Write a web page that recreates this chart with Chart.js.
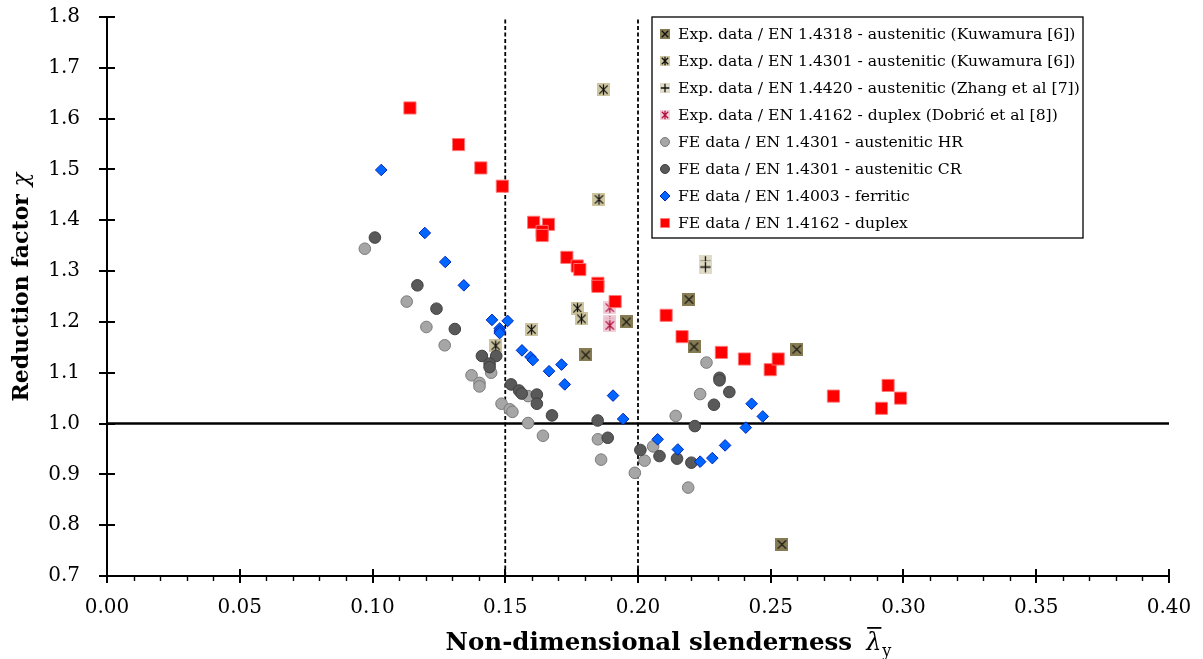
<!DOCTYPE html>
<html lang="en">
<head>
<meta charset="UTF-8">
<title>Reduction factor vs. non-dimensional slenderness</title>
<script src="https://cdn.jsdelivr.net/npm/chart.js"></script>
<style>
  html, body { margin: 0; padding: 0; background: #fff; }
  #wrap { width: 1203px; height: 659px; }
</style>
</head>
<body>
<div id="wrap"><canvas id="chiChart" width="1203" height="659"></canvas></div>
<script>
// slenderness (x) and reduction factor chi (y) for each data set
const exp4318 = [[0.1803, 1.135], [0.1956, 1.200], [0.2192, 1.244], [0.2211, 1.151], [0.2598, 1.146], [0.2542, 0.762]];
const exp4301 = [[0.1870, 1.657], [0.1853, 1.441], [0.1599, 1.185], [0.1464, 1.153], [0.1772, 1.227], [0.1787, 1.206]];
const exp4420 = [[0.2254, 1.319], [0.2254, 1.308]];
const exp4162 = [[0.1894, 1.228], [0.1894, 1.201], [0.1894, 1.196], [0.1894, 1.193]];

const feHR = [[0.0971, 1.344], [0.1129, 1.240], [0.1203, 1.190], [0.1272, 1.154], [0.1373, 1.095], [0.1403, 1.080],
  [0.1403, 1.073], [0.1447, 1.100], [0.1486, 1.039], [0.1517, 1.028], [0.1527, 1.023], [0.1586, 1.054],
  [0.1586, 1.001], [0.1642, 0.976], [0.1849, 0.969], [0.1861, 0.929], [0.1988, 0.903], [0.2025, 0.927],
  [0.2057, 0.955], [0.2142, 1.015], [0.2189, 0.874], [0.2258, 1.120], [0.2234, 1.058]];

const feCR = [[0.1009, 1.366], [0.1169, 1.272], [0.1241, 1.226], [0.1310, 1.186], [0.1412, 1.133], [0.1466, 1.133],
  [0.1441, 1.118], [0.1441, 1.111], [0.1522, 1.077], [0.1552, 1.065], [0.1562, 1.059], [0.1619, 1.057],
  [0.1619, 1.039], [0.1676, 1.016], [0.1848, 1.006], [0.1886, 0.972], [0.2009, 0.948], [0.2081, 0.936],
  [0.2147, 0.931], [0.2201, 0.923], [0.2214, 0.995], [0.2307, 1.090], [0.2307, 1.085], [0.2344, 1.062],
  [0.2286, 1.037]];

const feFerritic = [[0.1033, 1.499], [0.1197, 1.375], [0.1274, 1.318], [0.1344, 1.272], [0.1450, 1.204], [0.1509, 1.202],
  [0.1479, 1.187], [0.1479, 1.182], [0.1479, 1.178], [0.1563, 1.144], [0.1595, 1.131], [0.1604, 1.125],
  [0.1665, 1.103], [0.1712, 1.116], [0.1724, 1.077], [0.1906, 1.055], [0.1944, 1.009], [0.2074, 0.969],
  [0.2150, 0.949], [0.2234, 0.925], [0.2280, 0.932], [0.2328, 0.957], [0.2406, 0.992], [0.2428, 1.039],
  [0.2470, 1.014]];

const feDuplex = [[0.1141, 1.621], [0.1324, 1.549], [0.1408, 1.503], [0.1489, 1.467], [0.1607, 1.396], [0.1663, 1.392],
  [0.1639, 1.378], [0.1639, 1.370], [0.1732, 1.327], [0.1771, 1.310], [0.1781, 1.303], [0.1849, 1.276],
  [0.1849, 1.270], [0.1914, 1.240], [0.2106, 1.213], [0.2166, 1.171], [0.2314, 1.140], [0.2401, 1.127],
  [0.2498, 1.106], [0.2528, 1.127], [0.2736, 1.054], [0.2942, 1.075], [0.2917, 1.030], [0.2989, 1.050]];

// axis ranges and reference lines
const xRange = [0, 0.4];
const yRange = [0.7, 1.8];
const xStep = 0.05, xMinorStep = 0.01, yStep = 0.1;
const slendernessLimits = [0.15, 0.20];
const chiUnity = 1.0;

const serif = "'DejaVu Serif', 'Liberation Serif', serif";
const toXY = arr => arr.map(p => ({ x: p[0], y: p[1] }));

// small square markers with cross / asterisk / plus drawn on top
function expMarker(size, bg, ink, strokes) {
  const c = document.createElement('canvas');
  c.width = size; c.height = size;
  const g = c.getContext('2d');
  const m = size * 0.18, e = size - m, h = size / 2;
  g.fillStyle = bg;
  g.fillRect(0, 0, size, size);
  g.strokeStyle = ink;
  g.lineWidth = 1.3;
  g.beginPath();
  if (strokes.includes('x')) { g.moveTo(m, m); g.lineTo(e, e); g.moveTo(e, m); g.lineTo(m, e); }
  if (strokes.includes('|')) { g.moveTo(h, m - 1); g.lineTo(h, e + 1); }
  if (strokes.includes('-')) { g.moveTo(m - 1, h); g.lineTo(e + 1, h); }
  g.stroke();
  return c;
}

const styles4318 = ['rgba(128,117,74,0.95)', '#111', 'x'];
const styles4301 = ['rgba(200,190,150,0.9)', '#111', 'x|'];
const styles4420 = ['rgba(222,217,195,0.95)', '#111', '|-'];
const styles4162 = ['rgba(238,200,212,0.85)', '#b3103f', 'x|'];

function expSet(label, pts, st) {
  return {
    label, data: toXY(pts),
    pointStyle: expMarker(13, ...st), legendStyle: expMarker(10, ...st),
    pointRadius: 6.5
  };
}

const datasets = [
  expSet('Exp. data / EN 1.4318 - austenitic (Kuwamura [6])', exp4318, styles4318),
  expSet('Exp. data / EN 1.4301 - austenitic (Kuwamura [6])', exp4301, styles4301),
  expSet('Exp. data / EN 1.4420 - austenitic (Zhang et al [7])', exp4420, styles4420),
  expSet('Exp. data / EN 1.4162 - duplex (Dobrić et al [8])', exp4162, styles4162),
  { label: 'FE data / EN 1.4301 - austenitic HR', data: toXY(feHR), pointStyle: 'circle', pointRadius: 5.8,
    backgroundColor: '#a6a6a6', borderColor: '#7a7a7a', borderWidth: 1 },
  { label: 'FE data / EN 1.4301 - austenitic CR', data: toXY(feCR), pointStyle: 'circle', pointRadius: 5.8,
    backgroundColor: '#595959', borderColor: '#404040', borderWidth: 1 },
  { label: 'FE data / EN 1.4003 - ferritic', data: toXY(feFerritic), pointStyle: 'rectRot', pointRadius: 5.8,
    backgroundColor: '#0066ff', borderColor: '#0026b8', borderWidth: 1 },
  { label: 'FE data / EN 1.4162 - duplex', data: toXY(feDuplex), pointStyle: 'rect', pointRadius: 8.6,
    backgroundColor: '#ff0000', borderColor: 'rgba(255,120,120,0.9)', borderWidth: 1 }
];
// later series sit on top
datasets.forEach((d, i) => { d.order = datasets.length - i; d.inLegend = true; });

// reference lines: chi = 1 and the two slenderness limits
datasets.push({
  data: [{ x: xRange[0], y: chiUnity }, { x: xRange[1], y: chiUnity }],
  showLine: true, pointRadius: 0, borderColor: '#000', borderWidth: 2.6, order: 30
});
slendernessLimits.forEach(v => datasets.push({
  data: [{ x: v, y: yRange[0] }, { x: v, y: yRange[1] }],
  showLine: true, pointRadius: 0, borderColor: '#000', borderWidth: 1.8, borderDash: [4, 2.5], order: 30
}));

// cross-shaped tick marks on both axes, minor ticks under the x axis
const axisMarks = {
  id: 'axisMarks',
  afterDraw(chart) {
    const { ctx, scales: { x, y } } = chart;
    ctx.save();
    ctx.strokeStyle = '#000';
    ctx.lineWidth = 2;
    ctx.beginPath();
    y.ticks.forEach(t => {
      const py = Math.round(y.getPixelForValue(t.value));
      ctx.moveTo(x.left - 8, py); ctx.lineTo(x.left + 8, py);
    });
    x.ticks.forEach(t => {
      const px = Math.round(x.getPixelForValue(t.value));
      ctx.moveTo(px, y.bottom - 7); ctx.lineTo(px, y.bottom + 7);
    });
    ctx.stroke();
    ctx.lineWidth = 1.4;
    ctx.beginPath();
    const n = Math.round((xRange[1] - xRange[0]) / xMinorStep);
    for (let i = 1; i < n; i++) {
      if (i % Math.round(xStep / xMinorStep) === 0) continue;
      const px = Math.round(x.getPixelForValue(xRange[0] + i * xMinorStep)) + 0.5;
      ctx.moveTo(px, y.bottom); ctx.lineTo(px, y.bottom + 5);
    }
    ctx.stroke();
    ctx.restore();
  }
};

function legendMarker(ctx, d, cx, cy) {
  if (d.legendStyle) {
    ctx.drawImage(d.legendStyle, cx - d.legendStyle.width / 2, cy - d.legendStyle.height / 2);
    return;
  }
  ctx.fillStyle = d.backgroundColor;
  ctx.strokeStyle = d.borderColor;
  ctx.lineWidth = 1;
  ctx.beginPath();
  if (d.pointStyle === 'circle') ctx.arc(cx, cy, 4.5, 0, Math.PI * 2);
  else if (d.pointStyle === 'rectRot') {
    ctx.moveTo(cx, cy - 5); ctx.lineTo(cx + 5, cy); ctx.lineTo(cx, cy + 5); ctx.lineTo(cx - 5, cy); ctx.closePath();
  } else ctx.rect(cx - 4.5, cy - 4.5, 9, 9);
  ctx.fill();
  ctx.stroke();
}

// framed legend in the upper right of the plot area
const boxLegend = {
  id: 'boxLegend',
  afterDraw(chart, args, opts) {
    const { ctx, chartArea: a } = chart;
    const items = chart.data.datasets.filter(d => d.inLegend);
    const left = a.right - opts.rightGap - opts.width;
    const top = a.top;
    ctx.save();
    ctx.fillStyle = '#fff';
    ctx.fillRect(left, top, opts.width, opts.height);
    ctx.strokeStyle = '#000';
    ctx.lineWidth = 1.3;
    ctx.strokeRect(left, top, opts.width, opts.height);
    ctx.font = opts.font;
    ctx.textBaseline = 'middle';
    items.forEach((d, i) => {
      const cy = top + opts.firstRow + i * opts.rowHeight;
      legendMarker(ctx, d, left + 13, cy);
      ctx.fillStyle = '#000';
      ctx.fillText(d.label, left + 26, cy + 1);
    });
    ctx.restore();
  }
};

// axis titles (the x title carries lambda-bar with a subscript)
const axisTitles = {
  id: 'axisTitles',
  afterDraw(chart) {
    const { ctx, chartArea: a } = chart;
    ctx.save();
    ctx.fillStyle = '#000';
    ctx.textBaseline = 'alphabetic';

    const main = 'Non-dimensional slenderness';
    const gap = 14;
    ctx.font = 'bold 24.5px ' + serif;
    const wMain = ctx.measureText(main).width;
    ctx.font = 'italic 24px ' + serif;
    const wLam = ctx.measureText('λ').width;
    ctx.font = '16px ' + serif;
    const wSub = ctx.measureText('y').width;
    let x0 = (a.left + a.right) / 2 + 30 - (wMain + gap + wLam + wSub) / 2;
    const base = a.bottom + 74;
    ctx.font = 'bold 24.5px ' + serif;
    ctx.fillText(main, x0, base);
    x0 += wMain + gap;
    ctx.font = 'italic 24px ' + serif;
    ctx.fillText('λ', x0, base);
    ctx.fillRect(x0 + 1, base - 23, wLam - 1, 1.8);
    x0 += wLam + 1;
    ctx.font = '16px ' + serif;
    ctx.fillText('y', x0, base + 6);

    ctx.translate(22, 287);
    ctx.rotate(-Math.PI / 2);
    ctx.textBaseline = 'middle';
    const t1 = 'Reduction factor ';
    ctx.font = 'bold 22px ' + serif;
    const w1 = ctx.measureText(t1).width;
    ctx.font = 'italic 23px ' + serif;
    const w2 = ctx.measureText('χ').width;
    const ty = -(w1 + w2) / 2;
    ctx.font = 'bold 22px ' + serif;
    ctx.fillText(t1, ty, 0);
    ctx.font = 'italic 23px ' + serif;
    ctx.fillText('χ', ty + w1, 0);
    ctx.restore();
  }
};

// keep the plot frame where the layout padding puts it
function noOverhang(s) {
  s.paddingTop = 0; s.paddingBottom = 0; s.paddingLeft = 0; s.paddingRight = 0;
}

const ctx = document.getElementById('chiChart').getContext('2d');
new Chart(ctx, {
  type: 'scatter',
  data: { datasets },
  options: {
    responsive: false,
    animation: false,
    layout: { padding: { top: 17, right: 34, left: 0, bottom: 0 } },
    plugins: {
      legend: { display: false },
      tooltip: { enabled: false },
      boxLegend: { width: 431, height: 221, rightGap: 86, firstRow: 17, rowHeight: 27, font: '15.6px ' + serif }
    },
    scales: {
      x: {
        type: 'linear', min: xRange[0], max: xRange[1],
        grid: { display: false },
        border: { color: '#000', width: 2 },
        ticks: { stepSize: xStep, color: '#000', padding: 12, font: { family: serif, size: 20 },
          callback: v => Number(v).toFixed(2) },
        afterFit: s => { s.height = 83; noOverhang(s); }
      },
      y: {
        type: 'linear', min: yRange[0], max: yRange[1],
        grid: { display: false },
        border: { color: '#000', width: 2 },
        ticks: { stepSize: yStep, color: '#000', padding: 19, font: { family: serif, size: 20 },
          callback: v => Number(v).toFixed(1) },
        afterFit: s => { s.width = 107; noOverhang(s); }
      }
    }
  },
  plugins: [axisMarks, boxLegend, axisTitles]
});
</script>
</body>
</html>
